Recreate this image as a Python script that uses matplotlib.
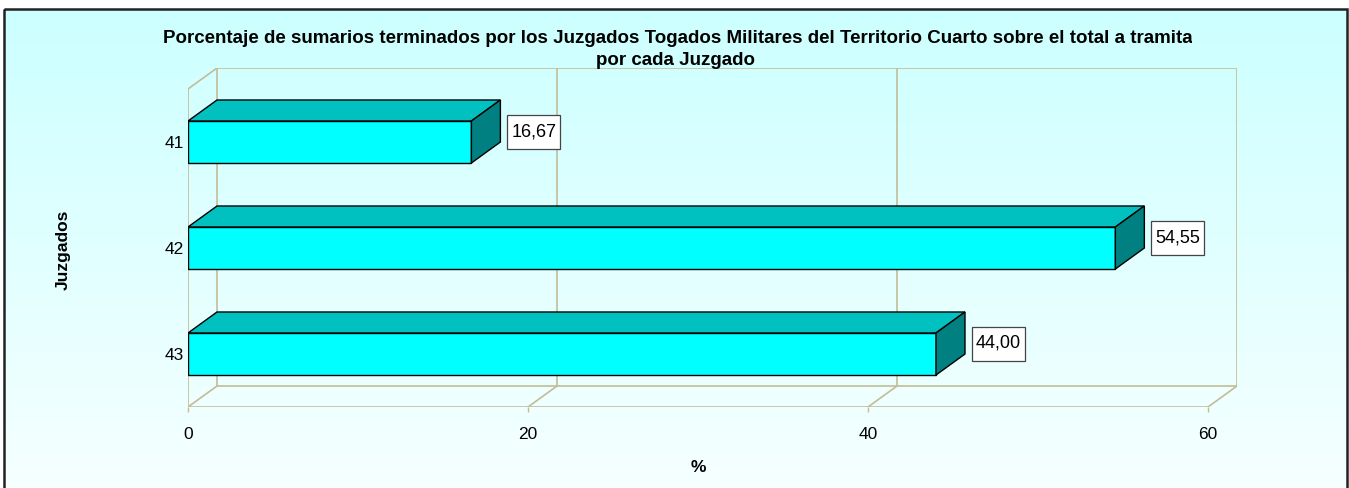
import matplotlib
matplotlib.use("Agg")
import matplotlib.pyplot as plt
import numpy as np
from matplotlib.patches import Polygon, Rectangle
from matplotlib.transforms import Bbox, IdentityTransform

plt.rcParams["font.family"] = ["Liberation Sans", "DejaVu Sans"]

# data
juzgados = ["43", "42", "41"]
porcentajes = [44.00, 54.55, 16.67]
etiquetas = ["44,00", "54,55", "16,67"]
xticks = [0, 20, 40, 60]

W, H = 1349, 488
fig = plt.figure(figsize=(W / 100, H / 100), dpi=100)
fig.patch.set_facecolor("white")

# background panel with vertical gradient and black frame
bg = fig.add_axes([0, 0, 1, 1], zorder=0)
bg.set_xlim(0, W)
bg.set_ylim(H, 0)
bg.axis("off")
top_c = np.array([0xCC, 0xFF, 0xFF]) / 255
bot_c = np.array([0xF6, 0xFF, 0xFF]) / 255
t = np.linspace(0, 1, 256)[:, None]
grad = (top_c * (1 - t) + bot_c * t)[:, None, :]
bg.imshow(grad, extent=[4, 1347, H + 2, 9], aspect="auto", zorder=0)
bg.add_patch(Rectangle((4, 9), 1343, H, fill=False, ec="#222222", lw=1.8, zorder=1))

# plot area (front plane 0..60 x 0..3, back plane shifted by depth)
DX = 29 / 17
DY = 21 / 106
ax = fig.add_axes([188 / W, (H - 407) / H, (1237 - 188) / W, (407 - 68) / H], zorder=1)
ax.set_xlim(0, 60 + DX)
ax.set_ylim(0, 3 + DY)
ax.patch.set_visible(False)
for s in ax.spines.values():
    s.set_visible(False)

wall = "#C4BC96"
lw = 1.2
ntop = len(juzgados)
# left wall
ax.plot([0, 0], [0, ntop], color=wall, lw=lw)
ax.plot([0, DX], [ntop, ntop + DY], color=wall, lw=lw)
ax.plot([0, DX], [0, DY], color=wall, lw=lw)
ax.plot([DX, DX], [DY, ntop + DY], color=wall, lw=lw)
# back wall and floor
ax.plot([DX, 60 + DX], [ntop + DY, ntop + DY], color=wall, lw=lw)
ax.plot([DX, 60 + DX], [DY, DY], color=wall, lw=lw)
ax.plot([0, 60], [0, 0], color=wall, lw=lw)
for xv in xticks[1:]:
    ax.plot([xv + DX, xv + DX], [DY, ntop + DY], color=wall, lw=lw)
    ax.plot([xv, xv + DX], [0, DY], color=wall, lw=lw)

# bars: front faces via barh, top and side faces as polygons
ypos = np.arange(len(juzgados)) + 0.5
h = 42 / 106
ax.barh(ypos, porcentajes, height=h, color="#00FFFF", edgecolor="black", lw=1, zorder=3)
labels = []
for y, v, lab in zip(ypos, porcentajes, etiquetas):
    top = [(0, y + h / 2), (v, y + h / 2), (v + DX, y + h / 2 + DY), (DX, y + h / 2 + DY)]
    side = [(v, y - h / 2), (v + DX, y - h / 2 + DY), (v + DX, y + h / 2 + DY), (v, y + h / 2)]
    ax.add_patch(Polygon(top, closed=True, fc="#00C0C0", ec="black", lw=1, zorder=3))
    ax.add_patch(Polygon(side, closed=True, fc="#008080", ec="black", lw=1, zorder=3))
    labels.append(ax.text(v + DX + 0.65, y + DY / 2, lab, ha="left", va="center",
                          fontsize=13, zorder=5))

ax.set_xticks(xticks)
ax.set_xticklabels([str(x) for x in xticks], fontsize=12.5)
ax.set_yticks(ypos)
ax.set_yticklabels(juzgados, fontsize=12.5)
ax.tick_params(axis="x", length=3.6, width=1, color=wall, pad=10.5)
ax.tick_params(axis="y", length=0, pad=3)

fig.text(63 / W, 1 - 250 / H, "Juzgados", rotation=90, ha="center", va="center",
         fontsize=12.5, fontweight="bold")
fig.text(698 / W, 1 - 467 / H, "%", ha="center", va="center", fontsize=12.5, fontweight="bold")

t1 = fig.text(681 / W, 1 - 43 / H,
              "Porcentaje de sumarios terminados por los Juzgados Togados Militares "
              "del Territorio Cuarto sobre el total a tramitar",
              ha="center", va="baseline", fontsize=13.5, fontweight="bold")
t1.set_clip_box(Bbox.from_extents(0, 0, 1192, H))
t1.set_clip_on(True)
fig.text(675.5 / W, 1 - 65 / H, "por cada Juzgado", ha="center", va="baseline",
         fontsize=13.5, fontweight="bold")

# framed boxes around the value labels, sized from the rendered text
fig.canvas.draw()
for txt in labels:
    ext = txt.get_window_extent()
    cy = (ext.y0 + ext.y1) / 2
    bw, bh = ext.width + 8, 34
    box = Rectangle((ext.x0 - 4, cy - bh / 2), bw, bh, transform=IdentityTransform(),
                    fc="white", ec="#444444", lw=0.9, zorder=4, clip_on=False)
    ax.add_artist(box)

fig.savefig("out.png", dpi=100)
